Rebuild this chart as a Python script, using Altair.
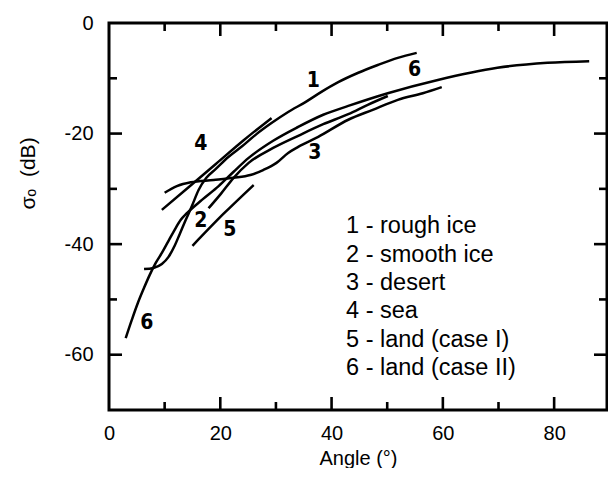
import altair as alt
import pandas as pd

# ---- data ----
series_names = ["1 - rough ice", "2 - smooth ice", "3 - desert", "4 - sea",
                "5 - land (case I)", "6 - land (case II)"]

rough_ice_x = [6.3, 8.0, 9.5, 10.7, 11.8, 12.7, 13.8, 14.9, 16.1, 17.5, 19.2, 21.5, 23.8,
               26.5, 29.2, 32.2, 35.3, 38.1, 41.2, 44.8, 48.3, 51.9, 55.3]
rough_ice_y = [-44.5, -44.3, -43.6, -42.3, -40.3, -38.2, -35.6, -33.1, -30.2, -28.0, -26.4,
               -24.2, -22.4, -20.1, -18.1, -16.1, -14.3, -12.5, -10.7, -9.0, -7.6, -6.3, -5.4]

smooth_ice_x = [17.9, 20.1, 22.4, 25.1, 29.5, 34.0, 38.5, 43.0, 46.5, 50.1]
smooth_ice_y = [-33.5, -30.9, -28.0, -25.3, -22.6, -20.4, -18.3, -16.5, -14.8, -13.2]

desert_x = [10.0, 12.2, 14.7, 18.8, 22.4, 25.4, 27.7, 30.1, 32.2, 34.0, 37.6, 43.0, 47.4,
            51.9, 56.4, 59.8]
desert_y = [-30.7, -29.5, -28.8, -28.4, -28.0, -27.5, -26.6, -25.3, -23.5, -22.4, -20.6,
            -17.5, -15.7, -13.9, -12.7, -11.6]

sea_x = [9.5, 14.3, 19.2, 24.2, 29.2]
sea_y = [-33.8, -29.7, -25.5, -21.2, -17.2]

land1_x = [15.0, 20.6, 26.0]
land1_y = [-40.3, -34.5, -29.3]

land2_x = [3.0, 4.1, 5.2, 6.3, 7.3, 8.4, 9.5, 10.7, 11.8, 12.9, 14.0, 16.7, 19.7, 22.4,
           25.1, 29.5, 34.0, 38.5, 43.0, 50.1, 59.1, 69.8, 78.8, 86.3]
land2_y = [-57.0, -53.7, -50.6, -47.9, -45.6, -43.4, -41.6, -39.4, -37.4, -35.6, -34.4,
           -32.0, -29.5, -26.9, -24.4, -21.3, -18.8, -16.6, -15.0, -12.7, -10.3, -8.1,
           -7.2, -6.9]

curve_label_text = ["1", "6", "4", "3", "2", "5", "6"]
curve_label_x = [36.7, 54.9, 16.5, 37.0, 16.5, 21.7, 6.8]
curve_label_y = [-10.5, -8.5, -21.9, -23.5, -35.8, -37.4, -54.2]

x_major = [20, 40, 60, 80]
x_minor = [10, 30, 50, 70]
y_major = [-20, -40, -60]
y_minor = [-10, -30, -50]
x_labels = [0, 20, 40, 60, 80]
y_labels = [0, -20, -40, -60]

X_MIN, X_MAX = 0, 89.5
Y_MIN, Y_MAX = -70, 0

W, H = 498, 387
px_x = (X_MAX - X_MIN) / W   # data units per pixel
px_y = (Y_MAX - Y_MIN) / H

# ---- build tables ----
xs_list = [rough_ice_x, smooth_ice_x, desert_x, sea_x, land1_x, land2_x]
ys_list = [rough_ice_y, smooth_ice_y, desert_y, sea_y, land1_y, land2_y]
rows = []
for name, xv, yv in zip(series_names, xs_list, ys_list):
    for i, (a, b) in enumerate(zip(xv, yv)):
        rows.append({"series": name, "idx": i, "x": a, "y": b})
curves = pd.DataFrame(rows)

# inward tick marks: rule segments (x, y) -> (x2, y2) in data units
tick_rows = []
def add_ticks(vals, side, length):
    for v in vals:
        if side == "top":
            tick_rows.append({"x": v, "x2": v, "y": Y_MAX, "y2": Y_MAX - length * px_y})
        elif side == "bottom":
            tick_rows.append({"x": v, "x2": v, "y": Y_MIN, "y2": Y_MIN + length * px_y})
        elif side == "left":
            tick_rows.append({"x": X_MIN, "x2": X_MIN + length * px_x, "y": v, "y2": v})
        else:
            tick_rows.append({"x": X_MAX - length * px_x, "x2": X_MAX, "y": v, "y2": v})

for side in ["top", "bottom"]:
    add_ticks(x_major, side, 13)
    add_ticks(x_minor, side, 8)
for side in ["left", "right"]:
    add_ticks(y_major, side, 13)
    add_ticks(y_minor, side, 8)
ticks_df = pd.DataFrame(tick_rows)

labels_df = pd.DataFrame({"t": curve_label_text, "x": curve_label_x, "y": curve_label_y})

legend_x = 42.6
legend_top = -38.0
legend_step = 5.14
legend_df = pd.DataFrame({
    "t": series_names,
    "x": [legend_x] * len(series_names),
    "y": [legend_top - i * legend_step for i in range(len(series_names))],
})

xs = alt.Scale(domain=[X_MIN, X_MAX], nice=False, zero=False)
ys = alt.Scale(domain=[Y_MIN, Y_MAX], nice=False, zero=False)
FONT = "Liberation Sans, Arial, sans-serif"

lines = alt.Chart(curves).mark_line(color="black", strokeWidth=2.5, interpolate="monotone").encode(
    x=alt.X("x:Q", scale=xs, axis=alt.Axis(
        values=x_labels, ticks=False, domain=False, grid=False, labelFontSize=20,
        labelPadding=13, labelFlush=False, labelOverlap=False, labelColor="black",
        title="Angle (°)", titleFontSize=20, titleFontWeight="normal",
        titleBaseline="alphabetic", titleY=54, titleColor="black")),
    y=alt.Y("y:Q", scale=ys, axis=alt.Axis(
        values=y_labels, ticks=False, domain=False, grid=False, labelFontSize=20,
        labelPadding=16, labelFlush=False, labelOverlap=False, labelColor="black",
        labelExpr="'' + datum.value",
        title="σₒ\u00a0\u00a0(dB)", titleFontSize=21, titleFontWeight="normal", titleColor="black",
        titleAngle=-90, titleX=-81, titleY=150, titleAlign="center", titleBaseline="middle")),
    detail="series:N",
    order="idx:Q",
)

tick_marks = alt.Chart(ticks_df).mark_rule(stroke="black", strokeWidth=2.6).encode(
    x=alt.X("x:Q", scale=xs), x2="x2", y=alt.Y("y:Q", scale=ys), y2="y2",
)

curve_labels = alt.Chart(labels_df).mark_text(
    font="'Liberation Sans Narrow', 'DejaVu Sans Condensed', sans-serif",
    fontWeight="bold", fontSize=21, color="black", align="center", baseline="middle"
).encode(x=alt.X("x:Q", scale=xs), y=alt.Y("y:Q", scale=ys), text="t:N")

legend_text = alt.Chart(legend_df).mark_text(
    font=FONT, fontSize=23.5, color="black", align="left", baseline="alphabetic"
).encode(x=alt.X("x:Q", scale=xs), y=alt.Y("y:Q", scale=ys), text="t:N")

chart = alt.layer(lines, tick_marks, curve_labels, legend_text).properties(
    width=W, height=H,
    autosize=alt.AutoSizeParams(type="none"),
    padding={"left": 101, "top": 15, "right": 1, "bottom": 58},
).configure_view(stroke="black", strokeWidth=3).configure_axis(
    labelFont=FONT, titleFont=FONT
)

chart.save("out.html", embed_options={"renderer": "svg", "actions": False})
